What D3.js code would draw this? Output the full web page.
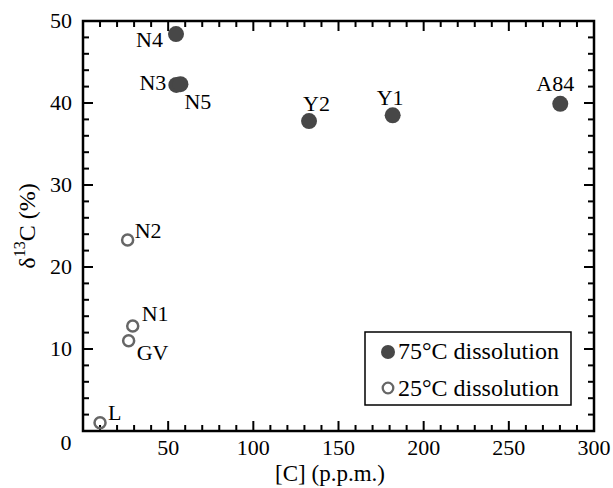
<!DOCTYPE html>
<html>
<head>
<meta charset="utf-8">
<script src="https://d3js.org/d3.v7.min.js"></script>
</head>
<body style="margin:0;background:#fff">
<svg id="chart" width="613" height="488"></svg>
<script>
// samples dissolved at 75°C
const hotNames = ["N4", "N3", "N5", "Y2", "Y1", "A84"];
const hotC     = [54.6, 54.8, 57.2, 132.7, 181.8, 280.2];
const hotD13   = [48.4, 42.2, 42.3, 37.8, 38.5, 39.9];
// samples dissolved at 25°C
const coldNames = ["N2", "N1", "GV", "L"];
const coldC     = [26.2, 29.2, 26.8, 10.0];
const coldD13   = [23.3, 12.8, 11.0, 1.0];

const xTicks = [50, 100, 150, 200, 250, 300];
const yTicks = [10, 20, 30, 40, 50];
const legendLabels = ["75°C dissolution", "25°C dissolution"];

// label offsets relative to the point (dx, dy, anchor)
const labelPos = {
  N4: [-13, 13, "end"], N3: [-10, 5, "end"], N5: [4, 25, "start"],
  Y2: [-6, -10, "start"], Y1: [-16, -10, "start"], A84: [-24, -13, "start"],
  N2: [7, -2, "start"], N1: [9, -5, "start"], GV: [8, 19, "start"], L: [8, -3, "start"]
};

const FONT = "'Liberation Serif', 'Times New Roman', Times, 'DejaVu Serif', serif";

const svg = d3.select("#chart")
  .attr("font-family", FONT)
  .style("font-family", FONT);
const margin = {left: 83, top: 21, right: 19, bottom: 57};
const W = 613 - margin.left - margin.right;
const H = 488 - margin.top - margin.bottom;

const x = d3.scaleLinear().domain([0, 300]).range([0, W]);
const y = d3.scaleLinear().domain([0, 50]).range([H, 0]);

const g = svg.append("g").attr("transform", "translate(" + margin.left + "," + margin.top + ")");

const minorX = d3.range(0, 301, 10);
const minorY = d3.range(0, 51, 2);

function tickLen(v, step) { return v % step === 0 ? 10 : 6; }

// inward ticks on all four sides
g.append("g").selectAll("line").data(minorX).join("line")
  .attr("x1", d => x(d)).attr("x2", d => x(d))
  .attr("y1", H).attr("y2", d => H - tickLen(d, 50))
  .attr("stroke", "#000").attr("stroke-width", 2);
g.append("g").selectAll("line").data(minorX).join("line")
  .attr("x1", d => x(d)).attr("x2", d => x(d))
  .attr("y1", 0).attr("y2", d => tickLen(d, 50))
  .attr("stroke", "#000").attr("stroke-width", 2);
g.append("g").selectAll("line").data(minorY).join("line")
  .attr("y1", d => y(d)).attr("y2", d => y(d))
  .attr("x1", 0).attr("x2", d => tickLen(d, 10))
  .attr("stroke", "#000").attr("stroke-width", 2);
g.append("g").selectAll("line").data(minorY).join("line")
  .attr("y1", d => y(d)).attr("y2", d => y(d))
  .attr("x1", W).attr("x2", d => W - tickLen(d, 10))
  .attr("stroke", "#000").attr("stroke-width", 2);

g.append("rect").attr("x", 0).attr("y", 0).attr("width", W).attr("height", H)
  .attr("fill", "none").attr("stroke", "#000").attr("stroke-width", 2.5);

// tick labels
g.append("g").selectAll("text").data(xTicks).join("text")
  .attr("x", d => x(d)).attr("y", H + 24)
  .attr("text-anchor", "middle").attr("font-size", 22)
  .text(d => d);
g.append("g").selectAll("text").data(yTicks).join("text")
  .attr("x", -11).attr("y", d => y(d) + 7)
  .attr("text-anchor", "end").attr("font-size", 22)
  .text(d => d);
g.append("text").attr("x", -17).attr("y", H + 19)
  .attr("text-anchor", "middle").attr("font-size", 22).text("0");

// axis titles
svg.append("text").attr("x", 330).attr("y", 481)
  .attr("text-anchor", "middle").attr("font-size", 23).text("[C] (p.p.m.)");
const yl = svg.append("text")
  .attr("transform", "translate(35," + (margin.top + H / 2) + ") rotate(-90)")
  .attr("text-anchor", "middle").attr("font-size", 24);
yl.append("tspan").text("δ");
yl.append("tspan").attr("font-size", 16).attr("dy", -10).text("13");
yl.append("tspan").attr("dy", 10).text("C (%)");

// points
const hot = hotNames.map((n, i) => ({name: n, c: hotC[i], d: hotD13[i]}));
const cold = coldNames.map((n, i) => ({name: n, c: coldC[i], d: coldD13[i]}));

g.append("g").selectAll("circle").data(hot).join("circle")
  .attr("cx", d => x(d.c)).attr("cy", d => y(d.d)).attr("r", 8)
  .attr("fill", "#474747");
g.append("g").selectAll("circle").data(cold).join("circle")
  .attr("cx", d => x(d.c)).attr("cy", d => y(d.d)).attr("r", 5.5)
  .attr("fill", "none").attr("stroke", "#666").attr("stroke-width", 2.5);

g.append("g").selectAll("text").data(hot.concat(cold)).join("text")
  .attr("x", d => x(d.c) + labelPos[d.name][0])
  .attr("y", d => y(d.d) + labelPos[d.name][1])
  .attr("text-anchor", d => labelPos[d.name][2])
  .attr("font-size", 22)
  .text(d => d.name);

// legend
const lg = svg.append("g").attr("transform", "translate(365,332)");
lg.append("rect").attr("width", 206).attr("height", 73)
  .attr("fill", "#fff").attr("stroke", "#000").attr("stroke-width", 1.5);
lg.append("circle").attr("cx", 23).attr("cy", 20).attr("r", 7).attr("fill", "#474747");
lg.append("circle").attr("cx", 23).attr("cy", 56).attr("r", 5.3)
  .attr("fill", "none").attr("stroke", "#666").attr("stroke-width", 2.3);
lg.selectAll("text.l").data(legendLabels).join("text").attr("class", "l")
  .attr("x", 33).attr("y", (d, i) => 27 + i * 37)
  .attr("font-size", 24).text(d => d);
</script>
</body>
</html>
